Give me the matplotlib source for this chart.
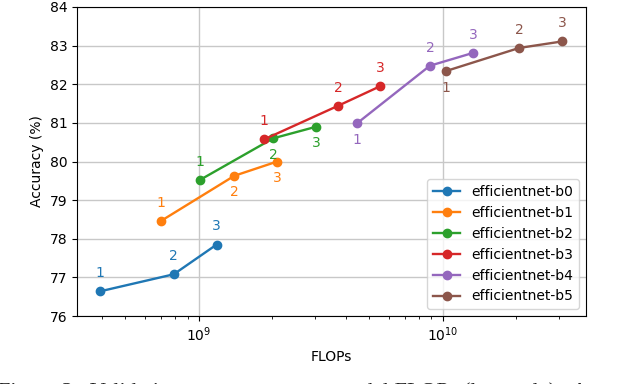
import matplotlib
matplotlib.use("Agg")
import matplotlib.pyplot as plt

# FLOPs (x) and top-1 accuracy (y) for scaled variants 1..3 of each model
MODELS = ["efficientnet-b0", "efficientnet-b1", "efficientnet-b2",
          "efficientnet-b3", "efficientnet-b4", "efficientnet-b5"]
b0_flops = [3.95e8, 7.9e8, 1.185e9]
b0_acc = [76.64, 77.08, 77.85]
b1_flops = [7.0e8, 1.40e9, 2.10e9]
b1_acc = [78.46, 79.63, 80.00]
b2_flops = [1.01e9, 2.02e9, 3.03e9]
b2_acc = [79.52, 80.60, 80.90]
b3_flops = [1.85e9, 3.72e9, 5.55e9]
b3_acc = [80.57, 81.44, 81.95]
b4_flops = [4.46e9, 8.87e9, 1.33e10]
b4_acc = [80.99, 82.48, 82.81]
b5_flops = [1.03e10, 2.06e10, 3.10e10]
b5_acc = [82.34, 82.94, 83.11]
POINT_LABELS = ["1", "2", "3"]
# +1 = label above the point, -1 = below
label_side = [
    [1, 1, 1],
    [1, -1, -1],
    [1, -1, -1],
    [1, 1, 1],
    [-1, 1, 1],
    [-1, 1, 1],
]

flops = [b0_flops, b1_flops, b2_flops, b3_flops, b4_flops, b5_flops]
accs = [b0_acc, b1_acc, b2_acc, b3_acc, b4_acc, b5_acc]
colors = plt.rcParams["axes.prop_cycle"].by_key()["color"]

fig = plt.figure(figsize=(6.18, 3.84), dpi=100)
ax = fig.add_axes([77 / 618, 1 - 316 / 384, (586 - 77) / 618, (316 - 7) / 384])

for i, name in enumerate(MODELS):
    c = colors[i]
    ax.plot(flops[i], accs[i], marker="o", ms=6, lw=1.7, color=c, label=name)
    for j, txt in enumerate(POINT_LABELS):
        side = label_side[i][j]
        ax.annotate(txt, (flops[i][j], accs[i][j]), textcoords="offset points",
                    xytext=(0, 13 if side > 0 else -12), ha="center", va="center",
                    color=c, fontsize=10)

ax.set_xscale("log")
ax.set_xlim(3.17e8, 3.87e10)
ax.set_ylim(76, 84)
ax.grid(True, which="major", color="#c8c8c8", lw=1)
ax.set_axisbelow(True)
ax.set_xlabel("FLOPs")
ax.set_ylabel("Accuracy (%)")
ax.legend(loc="lower right", fontsize=10)

# clipped caption of the source paper at the bottom edge
fig.text(-0.003, 2 / 384, "Figure 2:  Validation accuracy versus model FLOPs (log scale).  A",
         family="Liberation Serif", fontsize=16, va="top", ha="left", color="#222222")

fig.savefig("out.png", dpi=100)
